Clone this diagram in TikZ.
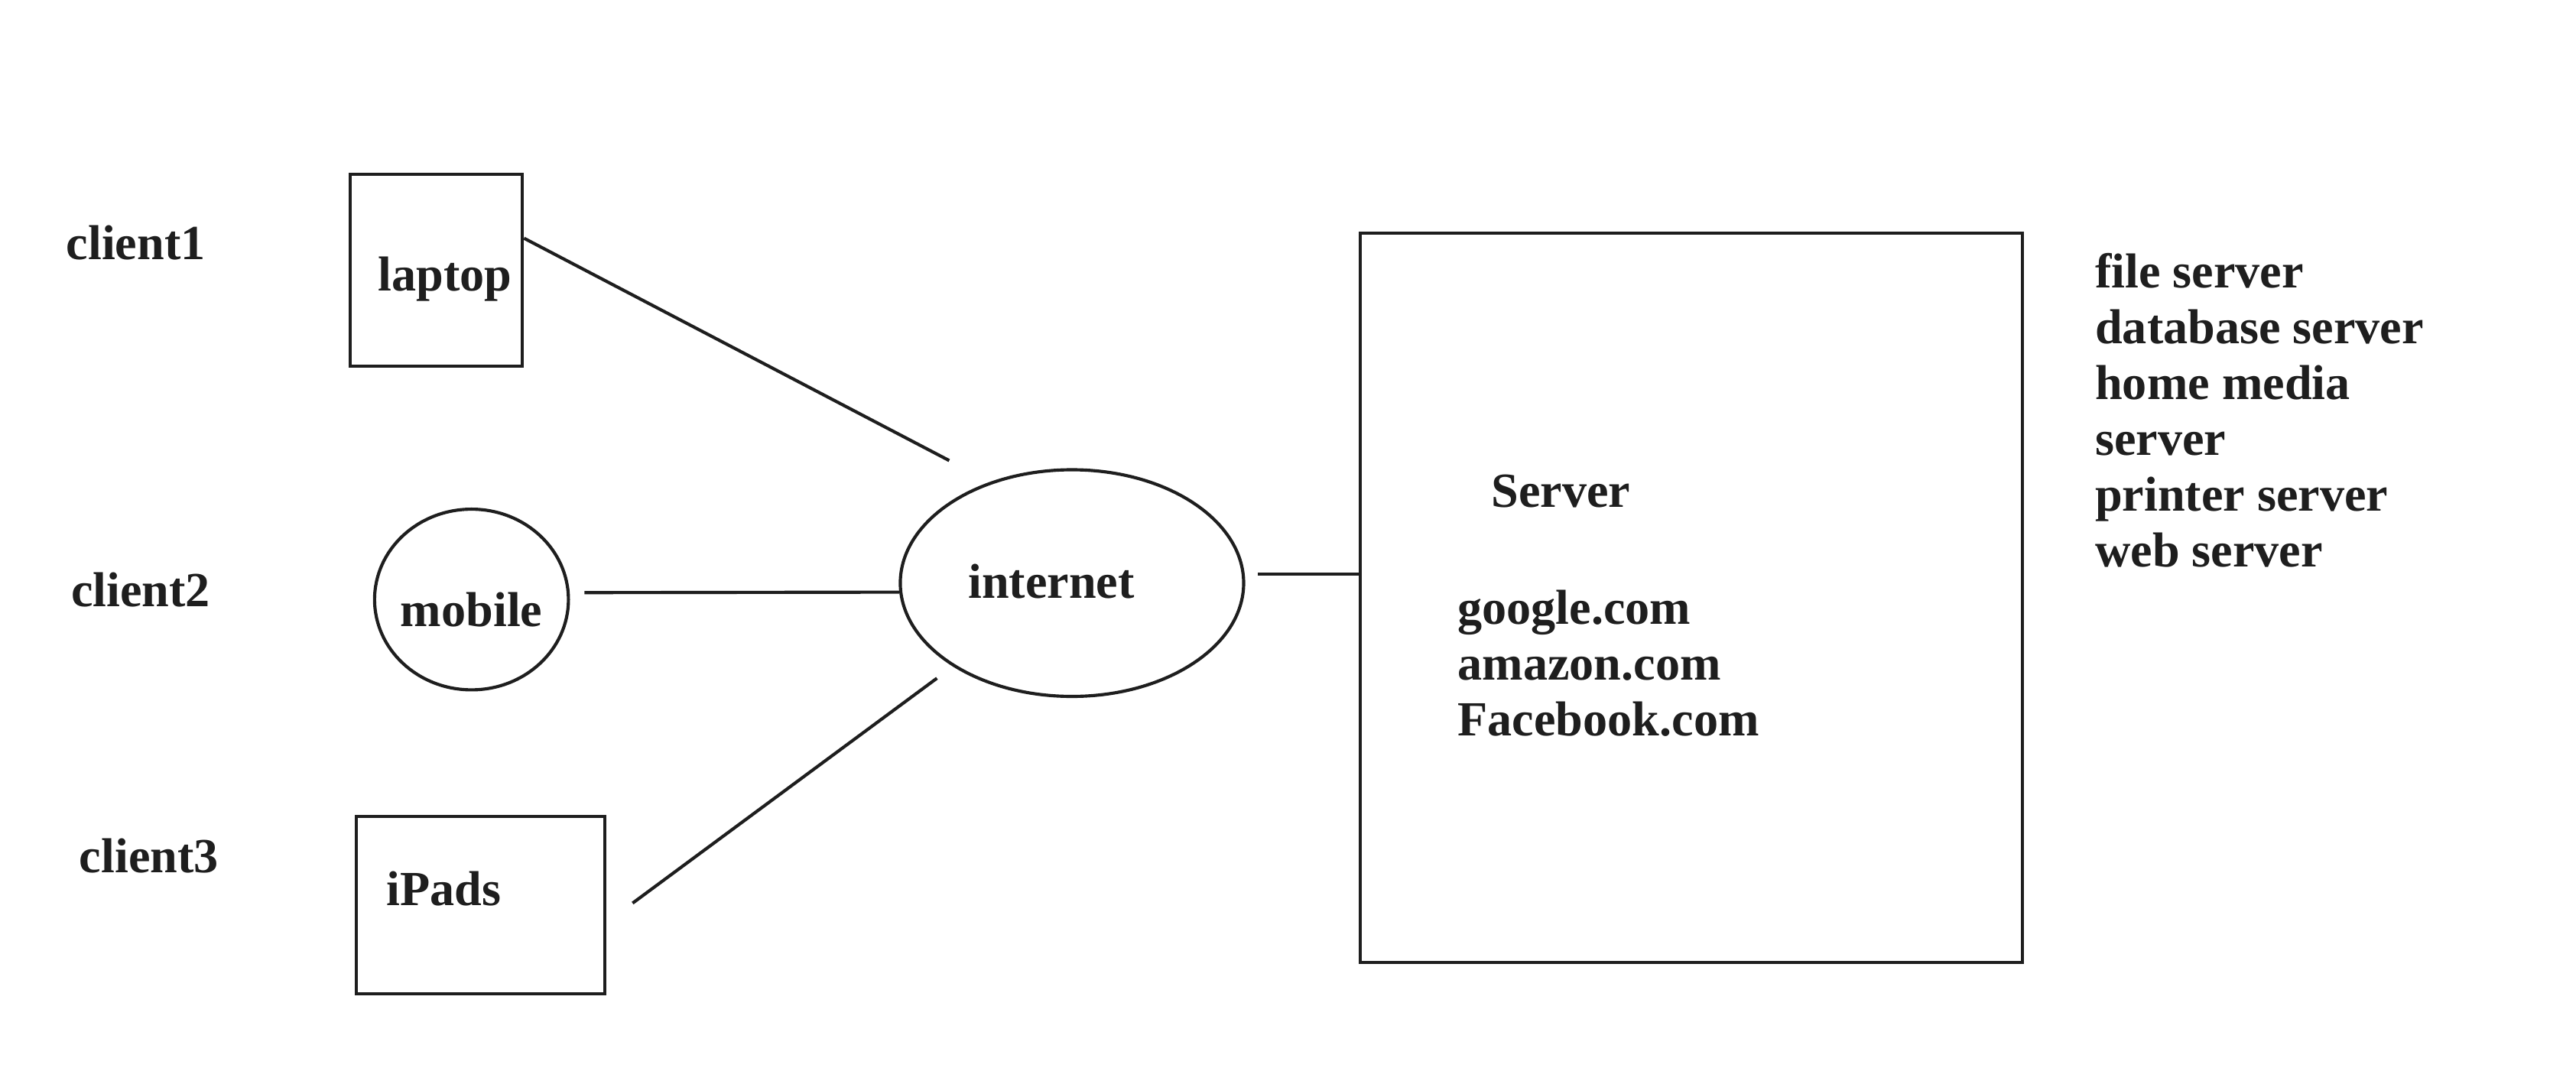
\documentclass[tikz,border=0pt]{standalone}
\usepackage{fontspec}
\setmainfont{Liberation Serif}
\definecolor{ink}{RGB}{30,30,30}
\usetikzlibrary{shapes.geometric}

\tikzset{
  lbl/.style={font=\fontsize{17}{19.4}\selectfont\bfseries,text=ink,inner sep=0pt},
  device/.style={draw=ink,line width=1.1pt,rectangle,inner sep=0pt},
  blob/.style={draw=ink,line width=1.1pt,ellipse,inner sep=0pt},
  wire/.style={draw=ink,line width=1.1pt}
}

\begin{document}
\begin{tikzpicture}
        \useasboundingbox (0,0) rectangle (31.36,13.04);
        % clients
        \node[lbl,anchor=west] (c1) at (0.80,10.08) {client1};
        \node[lbl,anchor=west] (c2) at (0.86,5.86) {client2};
        \node[lbl,anchor=west] (c3) at (0.96,2.62) {client3};
        \node[device,minimum width=2.1cm,minimum height=2.34cm] (laptop) at (5.31,9.75) {};
        \node[lbl] (laptopTxt) at (5.42,9.64) {laptop};
        \node[blob,minimum width=2.36cm,minimum height=2.2cm] (mobile) at (5.74,5.74) {};
        \node[lbl] (mobileTxt) at (5.74,5.62) {mobile};
        \node[device,minimum width=3.02cm,minimum height=2.16cm] (ipads) at (5.85,2.02) {};
        \node[lbl] (ipadsTxt) at (5.40,2.22) {iPads};
        % internet and server
        \node[blob,minimum width=4.18cm,minimum height=2.76cm] (internet) at (13.05,5.94) {};
        \node[lbl] (internetTxt) at (12.80,5.96) {internet};
        \node[device,minimum width=8.06cm,minimum height=8.88cm] (server) at (20.59,5.76) {};
        \node[lbl] (serverTxt) at (19.00,7.06) {Server};
        \foreach \site [count=\i] in {google.com,amazon.com,Facebook.com}
          \node[lbl,anchor=base west] (site\i) at (17.74,{5.44-0.68*(\i-1)}) {\site};
        \foreach \role [count=\i] in {file server,database server,home media,server,printer server,web server}
          \node[lbl,anchor=base west] (role\i) at (25.50,{9.54-0.68*(\i-1)}) {\role};
        % links
        \draw[wire,shorten >=0.56cm] (laptop.20) -- (internet.129);
        \draw[wire,shorten <=0.18cm] (mobile.4) -- (internet.183);
        \draw[wire,shorten <=0.40cm,shorten >=0.24cm] (ipads.-8) -- (internet.215);
        \draw[wire,shorten <=0.16cm] (internet.3) -- (internet.3 -| server.west);
      \end{tikzpicture}
\end{document}
